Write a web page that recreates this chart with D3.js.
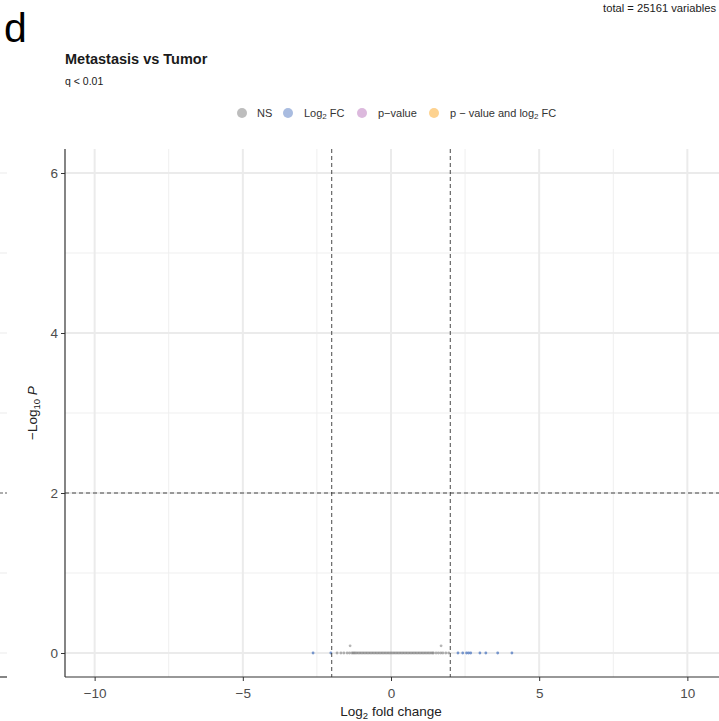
<!DOCTYPE html>
<html>
<head>
<meta charset="utf-8">
<script src="https://cdn.jsdelivr.net/npm/d3@7"></script>
<style>
  body { margin: 0; background: #fff; }
  text { font-family: "Liberation Sans", Arial, sans-serif; }
</style>
</head>
<body>
<svg width="719" height="721"></svg>
<script>
var svg = d3.select('svg');

// tick values of both axes
var xTicks = [-10, -5, 0, 5, 10];
var xMinor = [-7.5, -2.5, 2.5, 7.5];
var yTicks = [0, 2, 4, 6];
var yMinor = [1, 3, 5];

// cut-offs drawn as dashed lines
var fcCutoff = [-2, 2];
var pCutoff = 2;

// legend entries
var legendKeys = ['NS', 'Log2 FC', 'p-value', 'p - value and log2 FC'];
var legendColors = ['#bdbdbd', '#a9bce0', '#dcb9dd', '#fdd28f'];

// NS genes (log2FC, -log10 p), mostly sitting on 0
var nsX = [-1.82, -1.69, -1.59, -1.48, -1.40, -1.32, -1.28, -1.24, -1.2, -1.15, -1.1, -1.05, -1.0, -0.95, -0.9,
  -0.85, -0.8, -0.75, -0.7, -0.65, -0.6, -0.55, -0.5, -0.45, -0.4, -0.35, -0.3, -0.25, -0.2, -0.15,
  -0.1, -0.05, 0, 0.05, 0.1, 0.15, 0.2, 0.25, 0.3, 0.35, 0.4, 0.45, 0.5, 0.55, 0.6, 0.65, 0.7,
  0.75, 0.8, 0.85, 0.9, 0.95, 1.0, 1.05, 1.1, 1.15, 1.2, 1.25, 1.3, 1.35, 1.4, 1.43, 1.52, 1.6,
  1.68, 1.75, 1.85, 1.95];
var nsY = nsX.map(function() { return 0; });
var nsHighX = [-1.38, 1.69];
var nsHighY = [0.09, 0.09];

// genes passing the fold change cut-off only
var fcX = [-2.63, -2.03, 2.26, 2.42, 2.55, 2.62, 2.69, 3.0, 3.2, 3.6, 4.08];
var fcY = [0, 0, 0, 0, 0, 0, 0, 0, 0, 0, 0];

var x = d3.scaleLinear().domain([-11, 11]).range([65, 717]);
var y = d3.scaleLinear().domain([-0.3, 6.3]).range([677, 149]);

// leftover of the neighbouring panel at the left edge
var edge = svg.append('g');
edge.selectAll('line.g')
  .data([0, 1, 3, 4, 5, 6])
  .join('line')
    .attr('x1', 0).attr('x2', 7)
    .attr('y1', d => y(d)).attr('y2', d => y(d))
    .attr('stroke', '#ebebeb').attr('stroke-width', 1);
edge.append('line')
  .attr('x1', 0).attr('x2', 7)
  .attr('y1', y(pCutoff)).attr('y2', y(pCutoff))
  .attr('stroke', '#333').attr('stroke-width', 0.8).attr('stroke-dasharray', '3,2');
edge.append('line')
  .attr('x1', 0).attr('x2', 7)
  .attr('y1', 677).attr('y2', 677)
  .attr('stroke', '#333').attr('stroke-width', 1.2);

// grid
var grid = svg.append('g');
grid.selectAll('line.xmin').data(xMinor).join('line').attr('class', 'xmin')
  .attr('x1', d => x(d)).attr('x2', d => x(d)).attr('y1', 149).attr('y2', 677)
  .attr('stroke', '#efefef').attr('stroke-width', 1);
grid.selectAll('line.ymin').data(yMinor).join('line').attr('class', 'ymin')
  .attr('x1', 65).attr('x2', 719).attr('y1', d => y(d)).attr('y2', d => y(d))
  .attr('stroke', '#efefef').attr('stroke-width', 1);
grid.selectAll('line.xmaj').data(xTicks).join('line').attr('class', 'xmaj')
  .attr('x1', d => x(d)).attr('x2', d => x(d)).attr('y1', 149).attr('y2', 677)
  .attr('stroke', '#ebebeb').attr('stroke-width', 2);
grid.selectAll('line.ymaj').data(yTicks).join('line').attr('class', 'ymaj')
  .attr('x1', 65).attr('x2', 719).attr('y1', d => y(d)).attr('y2', d => y(d))
  .attr('stroke', '#ebebeb').attr('stroke-width', 2);

// points
var pts = svg.append('g');
pts.selectAll('circle.ns')
  .data(nsX.map((v, i) => [v, nsY[i]]).concat(nsHighX.map((v, i) => [v, nsHighY[i]])))
  .join('circle').attr('class', 'ns')
    .attr('cx', d => x(d[0])).attr('cy', d => y(d[1])).attr('r', 1.4)
    .attr('fill', '#7a7a7a').attr('fill-opacity', 0.55);
pts.selectAll('circle.fc')
  .data(fcX.map((v, i) => [v, fcY[i]]))
  .join('circle').attr('class', 'fc')
    .attr('cx', d => x(d[0])).attr('cy', d => y(d[1])).attr('r', 1.4)
    .attr('fill', '#4f78c0').attr('fill-opacity', 0.75);

// cut-off lines
svg.selectAll('line.vcut').data(fcCutoff).join('line').attr('class', 'vcut')
  .attr('x1', d => x(d)).attr('x2', d => x(d)).attr('y1', 149).attr('y2', 677)
  .attr('stroke', '#333').attr('stroke-width', 0.9).attr('stroke-dasharray', '4,3');
svg.append('line')
  .attr('x1', 65).attr('x2', 719).attr('y1', y(pCutoff)).attr('y2', y(pCutoff))
  .attr('stroke', '#333').attr('stroke-width', 0.9).attr('stroke-dasharray', '4,3');

// axes
var xAxis = d3.axisBottom(x).tickValues(xTicks).tickSize(4).tickFormat(d => d < 0 ? '\u2212' + Math.abs(d) : d);
var yAxis = d3.axisLeft(y).tickValues(yTicks).tickSize(4).tickFormat(d3.format('d'));

var gx = svg.append('g').attr('transform', 'translate(0,677)').call(xAxis);
gx.select('.domain').remove();
gx.append('line').attr('x1', 65).attr('x2', 719).attr('stroke', '#333').attr('stroke-width', 1.2);

var gy = svg.append('g').attr('transform', 'translate(65,0)').call(yAxis);
gy.select('.domain').remove();
gy.append('line').attr('y1', 149).attr('y2', 677).attr('stroke', '#333').attr('stroke-width', 1.2);

svg.selectAll('.tick line').attr('stroke', '#333');
svg.selectAll('.tick text').attr('fill', '#4d4d4d').style('font-size', '13.5px')
  .style('font-family', '"Liberation Sans", Arial, sans-serif');
gx.selectAll('.tick text').attr('dy', '1.0em');

// axis titles
var xt = svg.append('text').attr('x', 391).attr('y', 716).attr('text-anchor', 'middle')
  .style('font-size', '13.5px').attr('fill', '#222');
xt.append('tspan').text('Log');
xt.append('tspan').text('2').style('font-size', '9.5px').attr('dy', 3);
xt.append('tspan').text(' fold change').attr('dy', -3);

var yt = svg.append('text').attr('transform', 'translate(37,413)rotate(-90)').attr('text-anchor', 'middle')
  .style('font-size', '13.5px').attr('fill', '#222');
yt.append('tspan').text('\u2212Log');
yt.append('tspan').text('10').style('font-size', '9.5px').attr('dy', 3);
yt.append('tspan').text(' P').attr('dy', -3).style('font-style', 'italic');

// titles
svg.append('text').attr('x', 4).attr('y', 42).text('d').style('font-size', '41px').attr('fill', '#000');
svg.append('text').attr('x', 65).attr('y', 64).text('Metastasis vs Tumor')
  .style('font-size', '14.5px').style('font-weight', 'bold').attr('fill', '#1a1a1a');
svg.append('text').attr('x', 65).attr('y', 85).text('q < 0.01')
  .style('font-size', '10.5px').attr('fill', '#1a1a1a');
svg.append('text').attr('x', 716).attr('y', 12).attr('text-anchor', 'end').text('total = 25161 variables')
  .style('font-size', '11.2px').attr('fill', '#1a1a1a');

// legend
var legX = [242, 288, 362, 434];
var leg = svg.append('g');
leg.selectAll('circle').data(legendColors).join('circle')
  .attr('cx', (d, i) => legX[i]).attr('cy', 113).attr('r', 5).attr('fill', d => d);

function legendText(t, x0) {
  var el = leg.append('text').attr('x', x0).attr('y', 117).style('font-size', '11px').attr('fill', '#333');
  if (t == 'NS') el.text('NS');
  if (t == 'Log2 FC') {
    el.append('tspan').text('Log');
    el.append('tspan').text('2').style('font-size', '8px').attr('dy', 2);
    el.append('tspan').text(' FC').attr('dy', -2);
  }
  if (t == 'p-value') el.text('p\u2212value');
  if (t == 'p - value and log2 FC') {
    el.append('tspan').text('p \u2212 value and log');
    el.append('tspan').text('2').style('font-size', '8px').attr('dy', 2);
    el.append('tspan').text(' FC').attr('dy', -2);
  }
}
var legTextX = [257, 304, 378, 450];
legendKeys.forEach((k, i) => legendText(k, legTextX[i]));
</script>
</body>
</html>
